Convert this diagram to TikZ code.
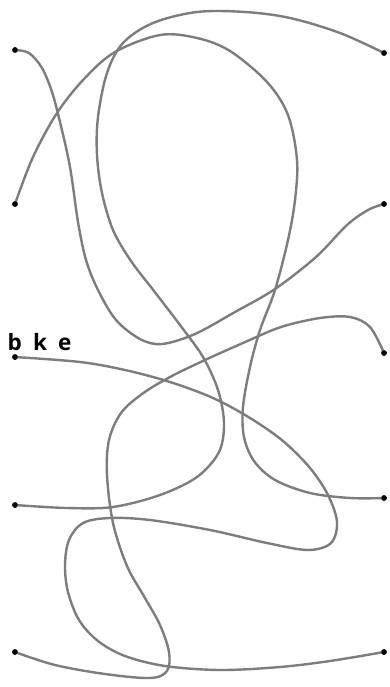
\documentclass[tikz,border=0pt]{standalone}
\usepackage{fontspec}
\newfontfamily\lblfont[WordSpace=1.9]{Open Sans}
\begin{document}
\begin{tikzpicture}[x=1pt,y=-1pt,
  dotnode/.style={circle,fill=black,inner sep=0pt,minimum size=5.5pt},
  wire/.style={draw={rgb,255:red,125;green,125;blue,125},line width=2.4pt,line cap=round,smooth,tension=0.55},
  lbl/.style={anchor=base west,inner sep=0pt,font=\lblfont\bfseries\fontsize{22.5}{24}\selectfont}]
\useasboundingbox[fill=white] (0,0) rectangle (390,687);
% end points
\node[dotnode] (L1) at (15,50) {};
\node[dotnode] (L2) at (15,204) {};
\node[dotnode] (L3) at (15,357) {};
\node[dotnode] (L4) at (15,505) {};
\node[dotnode] (L5) at (15,652) {};
\node[dotnode] (R1) at (384,53) {};
\node[dotnode] (R2) at (384,204) {};
\node[dotnode] (R3) at (384,353) {};
\node[dotnode] (R4) at (384,498) {};
\node[dotnode] (R5) at (384,652) {};
\node[lbl] (label) at (7.5,350) {b k e};
% curve A: L1 -> R2
\draw[wire] plot coordinates {(L1.center) (29,53) (42,68) (52,92) (60,122) (70,167) (78,222) (86,260) (98,290) (116,320) (140,339) (162,344) (195,334) (235,312) (275,289) (316,257) (347,225) (368,210) (R2.center)};
% curve B: L2 -> R4
\draw[wire] plot coordinates {(L2.center) (33,157) (57,113) (84,79) (115,52) (160,35) (197,38) (230,51) (267,82) (288,115) (297,160) (295,200) (288,240) (275,290) (260,330) (250,367) (243,407) (244,437) (254,461) (275,480) (310,493) (350,498) (R4.center)};
% curve C: R1 -> L4
\draw[wire] plot coordinates {(R1.center) (340,33) (290,18) (245,12) (197,12) (153,23) (123,43) (107,73) (98,117) (97,155) (102,193) (113,230) (131,261) (154,291) (180,325) (203,357) (218,390) (224,423) (219,452) (197,477) (160,495) (113,507) (67,508) (L4.center)};
% curve D: L3 -> R5
\draw[wire] plot coordinates {(L3.center) (80,362) (125,370) (170,382) (213,398) (250,418) (283,441) (310,468) (328,495) (337,522) (331,543) (308,550) (267,543) (210,530) (150,520) (110,518) (83,523) (69,540) (65,565) (68,592) (79,620) (98,641) (125,656) (165,666) (220,670) (280,667) (330,661) (R5.center)};
% curve F: L5 -> R3
\draw[wire] plot coordinates {(L5.center) (55,665) (105,674) (150,678) (167,671) (169,652) (160,625) (145,598) (127,566) (113,523) (107,475) (109,440) (121,413) (142,394) (170,377) (205,360) (243,343) (281,327) (320,318) (350,317) (370,327) (R3.center)};
% redraw dots on top
\foreach \n in {L1,L2,L3,L4,L5,R1,R2,R3,R4,R5} \fill (\n) circle (2.75pt);
\end{tikzpicture}
\end{document}
